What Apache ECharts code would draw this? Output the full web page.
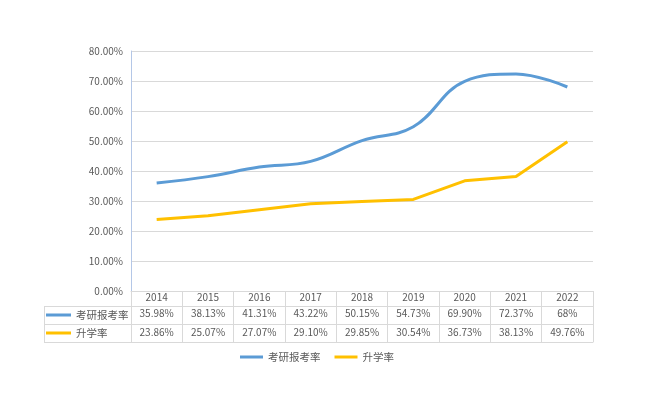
<!DOCTYPE html>
<html>
<head>
<meta charset="utf-8">
<script src="https://cdn.jsdelivr.net/npm/echarts@6/dist/echarts.min.js"></script>
<style>html,body{margin:0;padding:0;background:#fff}#c{width:664px;height:396px}</style>
</head>
<body>
<div id="c"></div>
<script>
const categories = ['2014','2015','2016','2017','2018','2019','2020','2021','2022'];
const kaoyan = [35.98,38.13,41.31,43.22,50.15,54.73,69.90,72.37,68];
const shengxue = [23.86,25.07,27.07,29.10,29.85,30.54,36.73,38.13,49.76];
const seriesNames = ['考研报考率','升学率'];
const yTicks = {min:0, max:80, interval:10};

const fmt = v => (Number.isInteger(v) ? String(v) : v.toFixed(2)) + '%';
const font = '"Noto Sans CJK SC", "Noto Sans", sans-serif';
const txt = '#595959';
const lineC = '#d9d9d9';

const chart = echarts.init(document.getElementById('c'));
const baseX = (offset, extra) => Object.assign({
  type:'category', data:categories, position:'bottom', offset:offset,
  axisLine:{show:true, lineStyle:{color:lineC}},
  axisTick:{show:false},
  axisLabel:{show:false}
}, extra);
const lblStyle = {show:true, interval:0, color:txt, fontSize:10, fontFamily:font};

chart.setOption({
  backgroundColor:'#fff',
  textStyle:{fontFamily:font},
  color:['#5B9BD5','#FFC000'],
  grid:{left:131, right:71, top:51, bottom:105},
  legend:[
    {data:seriesNames, left:240, top:350, padding:0, icon:'rect', itemWidth:23, itemHeight:3, itemGap:14, selectedMode:false,
     textStyle:{color:txt, fontSize:10.5, lineHeight:14, fontFamily:font}},
    {data:seriesNames, orient:'vertical', left:46, top:308, padding:0, icon:'rect', itemWidth:25, itemHeight:3, itemGap:4, selectedMode:false,
     textStyle:{color:txt, fontSize:10.5, lineHeight:14, fontFamily:font}}
  ],
  xAxis:[
    baseX(0, {axisTick:{show:true, length:51, lineStyle:{color:lineC}},
              axisLabel:Object.assign({margin:1}, lblStyle)}),
    baseX(15, {axisLabel:Object.assign({margin:2, formatter:(v,i)=>fmt(kaoyan[i])}, lblStyle)}),
    baseX(33, {axisLabel:Object.assign({margin:3, formatter:(v,i)=>fmt(shengxue[i])}, lblStyle)}),
    baseX(51, {})
  ],
  yAxis:{
    type:'value', min:yTicks.min, max:yTicks.max, interval:yTicks.interval,
    axisLine:{show:true, lineStyle:{color:'#b4c7e7'}},
    axisTick:{show:false},
    splitLine:{lineStyle:{color:lineC}},
    axisLabel:{color:txt, fontSize:10, margin:8, fontFamily:font, formatter:v=>v.toFixed(2)+'%'}
  },
  graphic:[
    {type:'line', shape:{x1:44, y1:306.5, x2:131, y2:306.5}, style:{stroke:lineC, lineWidth:1}},
    {type:'line', shape:{x1:44, y1:324.5, x2:131, y2:324.5}, style:{stroke:lineC, lineWidth:1}},
    {type:'line', shape:{x1:44, y1:342.5, x2:131, y2:342.5}, style:{stroke:lineC, lineWidth:1}},
    {type:'line', shape:{x1:44.5, y1:306, x2:44.5, y2:343}, style:{stroke:lineC, lineWidth:1}}
  ],
  series:[
    {name:seriesNames[0], type:'line', data:kaoyan, smooth:0.4, symbol:'none', lineStyle:{width:3}, xAxisIndex:0},
    {name:seriesNames[1], type:'line', data:shengxue, smooth:false, symbol:'none', lineStyle:{width:3}, xAxisIndex:0}
  ],
  animation:false
});
</script>
</body>
</html>
